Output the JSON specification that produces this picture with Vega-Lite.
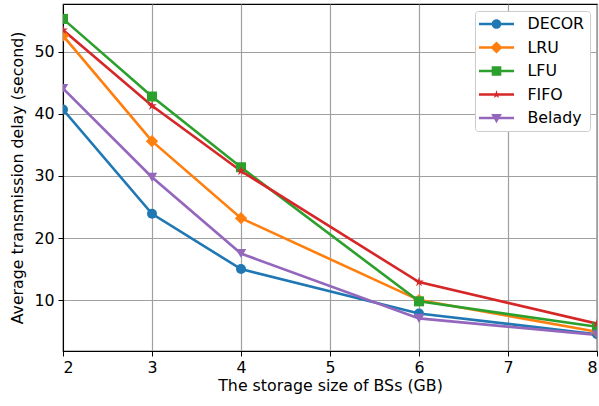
{
  "$schema": "https://vega.github.io/schema/vega-lite/v6.json",
  "width": 534,
  "height": 347,
  "autosize": "none",
  "padding": {"left": 63, "top": 4, "right": 2, "bottom": 55},
  "background": "white",
  "config": {
    "font": "DejaVu Sans",
    "view": {"stroke": "black", "strokeWidth": 1.2},
    "axis": {
      "labelFont": "DejaVu Sans",
      "titleFont": "DejaVu Sans",
      "labelFontSize": 15.8,
      "titleFontSize": 15.8,
      "titleFontWeight": "normal",
      "labelColor": "black",
      "titleColor": "black",
      "domainColor": "black",
      "tickColor": "black",
      "tickSize": 5,
      "gridColor": "#a0a0a0",
      "gridWidth": 1.2,
      "gridOpacity": 1
    },
    "legend": {
      "labelFont": "DejaVu Sans",
      "labelFontSize": 15.8,
      "labelColor": "black"
    }
  },
  "data": {
    "values": [
      {"x": 2, "y": 40.7, "method": "DECOR"},
      {"x": 3, "y": 23.9, "method": "DECOR"},
      {"x": 4, "y": 15.0, "method": "DECOR"},
      {"x": 6, "y": 7.85, "method": "DECOR"},
      {"x": 8, "y": 4.5, "method": "DECOR"},
      {"x": 2, "y": 52.6, "method": "LRU"},
      {"x": 3, "y": 35.6, "method": "LRU"},
      {"x": 4, "y": 23.2, "method": "LRU"},
      {"x": 6, "y": 10.0, "method": "LRU"},
      {"x": 8, "y": 4.9, "method": "LRU"},
      {"x": 2, "y": 55.3, "method": "LFU"},
      {"x": 3, "y": 42.8, "method": "LFU"},
      {"x": 4, "y": 31.4, "method": "LFU"},
      {"x": 6, "y": 9.8, "method": "LFU"},
      {"x": 8, "y": 5.7, "method": "LFU"},
      {"x": 2, "y": 53.5, "method": "FIFO"},
      {"x": 3, "y": 41.3, "method": "FIFO"},
      {"x": 4, "y": 30.8, "method": "FIFO"},
      {"x": 6, "y": 12.9, "method": "FIFO"},
      {"x": 8, "y": 6.2, "method": "FIFO"},
      {"x": 2, "y": 44.1, "method": "Belady"},
      {"x": 3, "y": 29.8, "method": "Belady"},
      {"x": 4, "y": 17.5, "method": "Belady"},
      {"x": 6, "y": 7.05, "method": "Belady"},
      {"x": 8, "y": 4.4, "method": "Belady"}
    ]
  },
  "encoding": {
    "x": {
      "field": "x",
      "type": "quantitative",
      "scale": {"domain": [2, 8], "nice": false, "zero": false},
      "axis": {"values": [2, 3, 4, 5, 6, 7, 8], "title": "The storage size of BSs (GB)", "titlePadding": 4, "labelPadding": 4}
    },
    "y": {
      "field": "y",
      "type": "quantitative",
      "scale": {"domain": [1.8, 57.7], "nice": false, "zero": false},
      "axis": {"values": [10, 20, 30, 40, 50], "title": "Average transmission delay (second)", "titlePadding": 8, "labelPadding": 4}
    },
    "color": {
      "field": "method",
      "type": "nominal",
      "scale": {
        "domain": ["DECOR", "LRU", "LFU", "FIFO", "Belady"],
        "range": ["#1f77b4", "#ff7f0e", "#2ca02c", "#d62728", "#9467bd"]
      },
      "legend": {
        "title": null,
        "orient": "top-right",
        "offset": 7,
        "padding": 5,
        "fillColor": "white",
        "strokeColor": "#cccccc",
        "cornerRadius": 3,
        "symbolSize": 256,
        "symbolOffset": 8.5,
        "labelOffset": 23,
        "rowPadding": 7.5,
        "encode": {
          "symbols": {
            "update": {
              "shape": {"signal": "datum.value === 'DECOR' ? 'M-2.19,-0.16H2.19V0.16H-2.19Z M0.6,0A0.6,0.6,0,1,1,-0.6,0A0.6,0.6,0,1,1,0.6,0Z' : datum.value === 'LRU' ? 'M-2.19,-0.16H2.19V0.16H-2.19Z M0,-0.76L0.76,0L0,0.76L-0.76,0Z' : datum.value === 'LFU' ? 'M-2.19,-0.16H2.19V0.16H-2.19Z M-0.6,-0.6H0.6V0.6H-0.6Z' : datum.value === 'FIFO' ? 'M-2.19,-0.16H2.19V0.16H-2.19Z M0,-0.55L0.124,-0.17L0.523,-0.17L0.2,0.065L0.323,0.445L0,0.21L-0.323,0.445L-0.2,0.065L-0.523,-0.17L-0.124,-0.17Z' : 'M-2.19,-0.16H2.19V0.16H-2.19Z M-0.67,-0.5L0.67,-0.5L0,0.65Z'"},
              "fill": {"scale": "color", "field": "value"},
              "size": {"value": 256},
              "strokeWidth": {"value": 0},
              "opacity": {"value": 1}
            }
          }
        }
      }
    }
  },
  "layer": [
    {
      "mark": {"type": "line", "strokeWidth": 2.6, "clip": true}
    },
    {
      "transform": [{"filter": "datum.method === 'DECOR'"}],
      "mark": {"type": "point", "shape": "circle", "filled": true, "opacity": 1, "size": 100, "clip": true}
    },
    {
      "transform": [{"filter": "datum.method === 'LRU'"}],
      "mark": {"type": "point", "shape": "diamond", "filled": true, "opacity": 1, "size": 150, "clip": true}
    },
    {
      "transform": [{"filter": "datum.method === 'LFU'"}],
      "mark": {"type": "point", "shape": "square", "filled": true, "opacity": 1, "size": 100, "clip": true}
    },
    {
      "transform": [{"filter": "datum.method === 'FIFO'"}],
      "mark": {"type": "point", "shape": "M0,-1L0.225,-0.309L0.951,-0.309L0.363,0.118L0.588,0.809L0,0.382L-0.588,0.809L-0.363,0.118L-0.951,-0.309L-0.225,-0.309Z", "filled": true, "opacity": 1, "size": 100, "clip": true}
    },
    {
      "transform": [{"filter": "datum.method === 'Belady'"}],
      "mark": {"type": "point", "shape": "triangle-down", "filled": true, "opacity": 1, "size": 110, "clip": true}
    }
  ]
}
